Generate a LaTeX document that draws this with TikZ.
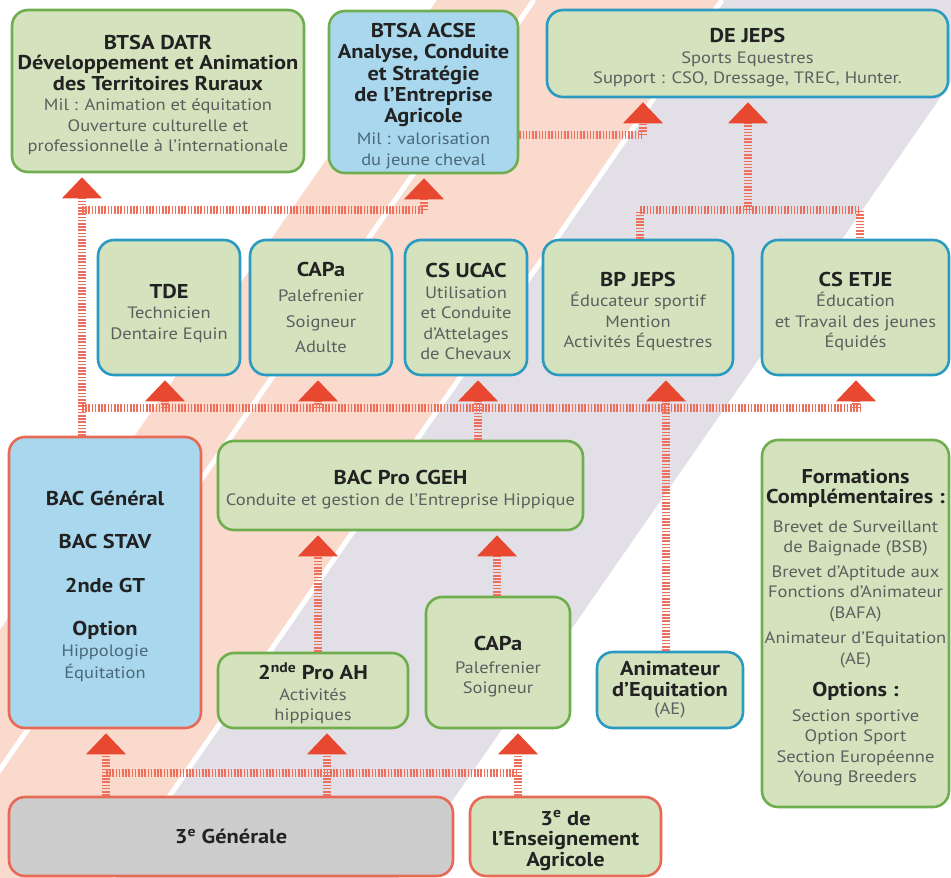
\documentclass[tikz,border=0pt]{standalone}
\usepackage{fontspec}
\setmainfont{PT Sans}[FakeStretch=1.12]
\usetikzlibrary{arrows.meta}
\definecolor{bgpink}{HTML}{FBDACE}
\definecolor{bggrey}{HTML}{E3DFE7}
\definecolor{boxgreen}{HTML}{D4E3BE}
\definecolor{boxblue}{HTML}{A9D8EE}
\definecolor{boxgrey}{HTML}{CDCDCD}
\definecolor{bdgreen}{HTML}{6EAE4E}
\definecolor{bdteal}{HTML}{2A9AC0}
\definecolor{bdred}{HTML}{E66A55}
\definecolor{arrowred}{HTML}{E8482F}
\definecolor{linkred}{HTML}{EE6F5C}
\definecolor{txtdark}{HTML}{222222}
\definecolor{txtgrey}{HTML}{5E5E5E}
\definecolor{txtblue}{HTML}{4A6878}
\newcommand\hdf{\fontsize{20}{20.5}\selectfont\bfseries\color{txtdark}}
\newcommand\sbf{\fontsize{16.5}{20.5}\selectfont\mdseries\color{txtgrey}}
\newcommand\sbu{\fontsize{16.5}{20.5}\selectfont\mdseries\color{txtblue}}
\newcommand\fst{\rule{0pt}{22.5pt}}
\begin{document}
\begin{tikzpicture}[x=1pt,y=-1pt,
  box/.style={rounded corners=16pt, line width=2.6pt, fill=boxgreen, align=center, inner sep=2pt, font=\fontsize{16.5}{20.5}\selectfont},
  gb/.style={box, draw=bdgreen},
  tb/.style={box, draw=bdteal},
  rb/.style={box, draw=bdred},
  link/.style={draw=linkred, line width=8pt, dash pattern=on 1.5pt off 1.7pt},
  arr/.style={-{Triangle[width=40pt,length=21pt,line width=0pt,color=arrowred,fill=arrowred]}, shorten >=4pt}
]
\useasboundingbox (0,0) rectangle (951,878);
% background bands
\begin{scope}
\clip (0,0) rectangle (951,878);
\fill[bgpink] (437,0) -- (722,0) -- (112.7,878) -- (-172.3,878) -- cycle;
\fill[bggrey] (722,0) -- (1008,0) -- (398.7,878) -- (112.7,878) -- cycle;
\draw[white, line width=5pt] (534,0) -- (-75.3,878);
\draw[white, line width=5pt] (722,0) -- (112.7,878);
\end{scope}

% boxes
\node[gb, minimum width=292pt, minimum height=162pt] (datr) at (158,91)
 {\fst\hdf BTSA DATR\\\hdf Développement et Animation\\\hdf des Territoires Ruraux\\\sbf Mil : Animation et équitation\\\sbf Ouverture culturelle et\\\sbf professionnelle à l’internationale};
\node[gb, fill=boxblue, minimum width=189pt, minimum height=162pt, font=\fontsize{16.5}{21.4}\selectfont] (acse) at (423.5,92)
 {\fst\hdf BTSA ACSE\\\hdf Analyse, Conduite\\\hdf et Stratégie\\\hdf de l’Entreprise\\\hdf Agricole\\\sbu Mil : valorisation\\\sbu du jeune cheval};
\node[tb, minimum width=401pt, minimum height=87pt] (dejeps) at (747.5,53.5)
 {\fst\hdf DE JEPS\\\sbf Sports Equestres\\\sbf Support : CSO, Dressage, TREC, Hunter.};

\node[tb, minimum width=142pt, minimum height=135pt] (tde) at (169,307.5)
 {\rule{0pt}{26pt}\hdf TDE\\\sbf Technicien\\\sbf Dentaire Equin};
\node[tb, minimum width=142pt, minimum height=135pt] (capa1) at (321,307.5)
 {\hdf CAPa\\[5pt]\sbf Palefrenier\\[5pt]\sbf Soigneur\\[5pt]\sbf Adulte};
\node[tb, minimum width=122pt, minimum height=135pt] (ucac) at (466,307.5)
 {\fst\hdf CS UCAC\\\sbf Utilisation\\\sbf et Conduite\\\sbf d’Attelages\\\sbf de Chevaux};
\node[tb, minimum width=190pt, minimum height=135pt] (bpjeps) at (638,307.5)
 {\fst\hdf BP JEPS\\\sbf Éducateur sportif\\\sbf Mention\\\sbf Activités Équestres};
\node[tb, minimum width=187pt, minimum height=135pt] (etje) at (855.5,307.5)
 {\fst\hdf CS ETJE\\\sbf Éducation\\\sbf et Travail des jeunes\\\sbf Équidés};

\node[rb, fill=boxblue, minimum width=192pt, minimum height=291pt] (bacg) at (105,582.5)
 {\fst\hdf BAC Général\\[23pt]\hdf BAC STAV\\[23pt]\hdf 2nde GT\\[23pt]\hdf Option\\\sbu Hippologie\\[2pt]\sbu Équitation};
\node[gb, minimum width=365pt, minimum height=89pt] (bacpro) at (400.5,485.5)
 {\fst\hdf BAC Pro CGEH\\\sbf Conduite et gestion de l’Entreprise Hippique};
\node[gb, minimum width=190pt, minimum height=75pt] (snd) at (313,690.5)
 {\fst\hdf 2\textsuperscript{nde} Pro AH\\\sbf Activités\\\sbf hippiques};
\node[gb, minimum width=144pt, minimum height=131pt] (capa2) at (498,662.5)
 {\fst\hdf CAPa\\[2pt]\sbf Palefrenier\\\sbf Soigneur};
\node[tb, minimum width=146pt, minimum height=76pt] (anim) at (670,690)
 {\hdf Animateur\\\hdf d’Equitation\\[-2pt]\sbf (AE)};
\node[gb, minimum width=187pt, minimum height=367pt] (form) at (855.5,623.5)
 {\fst\hdf Formations\\\hdf Complémentaires :\\[8pt]\sbf Brevet de Surveillant\\\sbf de Baignade (BSB)\\[4pt]\sbf Brevet d’Aptitude aux\\\sbf Fonctions d’Animateur\\\sbf (BAFA)\\[5pt]\sbf Animateur d’Equitation\\\sbf (AE)\\[12pt]\hdf Options :\\[4pt]\sbf Section sportive\\\sbf Option Sport\\\sbf Section Européenne\\\sbf Young Breeders};
\node[rb, fill=boxgrey, minimum width=444pt, minimum height=79pt] (g3) at (231,836.5)
 {\hdf 3\textsuperscript{e} Générale};
\node[rb, minimum width=191pt, minimum height=79pt] (a3) at (565.5,836.5)
 {\fst\hdf 3\textsuperscript{e} de\\\hdf l’Enseignement\\\hdf Agricole};

% junction coordinates
\coordinate (vL) at (82,210);
\coordinate (jA) at (424,210);
\coordinate (jD1) at (643,135);
\coordinate (jD2) at (748,210);
\coordinate (jB1) at (640,210);
\coordinate (jB2) at (860,210);
\coordinate (mL) at (82,408);
\coordinate (mT) at (165,408);
\coordinate (mC) at (318,408);
\coordinate (mU) at (478,408);
\coordinate (mB) at (666,408);
\coordinate (mE) at (856,408);
\coordinate (mR) at (860,408);
\coordinate (s1) at (318,600);
\coordinate (s2) at (497,600);
\coordinate (b1) at (106,773);
\coordinate (b2) at (327,773);
\coordinate (b3) at (518,773);

% connectors
\draw[link,arr] (bacg.north -| vL) -- (datr.south -| vL);
\draw[link] (vL) -- (jA);
\draw[link,arr] (jA) -- (acse.south -| jA);
\draw[link] (acse.east |- jD1) -- (jD1);
\draw[link,arr] (jD1) -- (dejeps.south -| jD1);
\draw[link,arr] (jD2) -- (dejeps.south -| jD2);
\draw[link] (bpjeps.north -| jB1) -- (jB1) -- (jB2) -- (etje.north -| jB2);

\draw[link] (mL) -- (mR);
\draw[link,arr] (mT) -- (tde.south -| mT);
\draw[link,arr] (mC) -- (capa1.south -| mC);
\draw[link,arr] (mU) -- (ucac.south -| mU);
\draw[link,arr] (mB) -- (bpjeps.south -| mB);
\draw[link,arr] (mE) -- (etje.south -| mE);
\draw[link] (bacpro.north -| mU) -- (mU);
\draw[link] (anim.north -| mB) -- (mB);

\draw[link,arr] (snd.north -| s1) -- (bacpro.south -| s1);
\draw[link,arr] (capa2.north -| s2) -- (bacpro.south -| s2);

\draw[link] (b1) -- (b3);
\draw[link,arr] (g3.north -| b1) -- (bacg.south -| b1);
\draw[link,arr] (g3.north -| b2) -- (snd.south -| b2);
\draw[link,arr] (a3.north -| b3) -- (capa2.south -| b3);
\end{tikzpicture}
\end{document}
